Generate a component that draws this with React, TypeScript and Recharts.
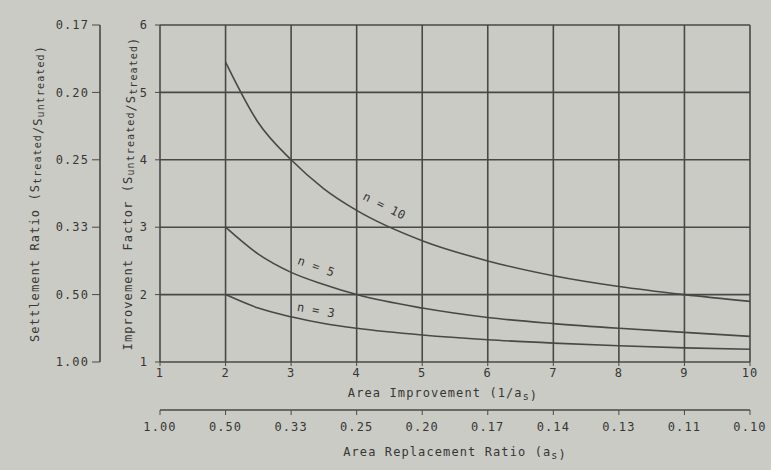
import { LineChart, Line, XAxis, YAxis, CartesianGrid, ReferenceDot } from 'recharts';

// area improvement 1/as
const AREA_IMPROVEMENT = [2, 2.5, 3, 3.5, 4, 5, 6, 7, 8, 9, 10];
const N10 = [5.45, 4.55, 4.0, 3.57, 3.25, 2.8, 2.5, 2.28, 2.12, 2.0, 1.9];
const N5 = [3.0, 2.6, 2.33, 2.15, 2.0, 1.8, 1.66, 1.57, 1.5, 1.44, 1.38];
const N3 = [2.0, 1.8, 1.67, 1.57, 1.5, 1.4, 1.33, 1.28, 1.24, 1.21, 1.19];

const X_TICKS = [1, 2, 3, 4, 5, 6, 7, 8, 9, 10];
const AS_LABELS = ['1.00', '0.50', '0.33', '0.25', '0.20', '0.17', '0.14', '0.13', '0.11', '0.10'];
const IF_TICKS = [1, 2, 3, 4, 5, 6];
const SR_LABELS = ['1.00', '0.50', '0.33', '0.25', '0.20', '0.17'];

const CURVE_LABELS = [
  { text: 'n = 10', x: 4.42, y: 3.31, angle: 27 },
  { text: 'n = 5', x: 3.38, y: 2.41, angle: 20 },
  { text: 'n = 3', x: 3.38, y: 1.76, angle: 10 },
];

const data = AREA_IMPROVEMENT.map((x, i) => ({ x, n10: N10[i], n5: N5[i], n3: N3[i] }));

const INK = '#363634';
const LINE = '#484846';
const FONT = '"DejaVu Sans Mono", monospace';
const tickStyle = { fill: INK, fontSize: 12, fontFamily: FONT, letterSpacing: 1.1 };

const Sub = ({ children }: { children: string }) => (
  <>
    <tspan dy={3} fontSize={10}>{children}</tspan>
    <tspan dy={-3}></tspan>
  </>
);

export default function App() {
  return (
    <div style={{ position: 'absolute', left: 0, top: 0, width: 771, height: 470, background: '#cbcbc6' }}>
      <LineChart width={771} height={470} data={data} margin={{ top: 25, right: 21, bottom: 0, left: 0 }}>
        <CartesianGrid xAxisId="x1" yAxisId="y1" stroke={LINE} strokeWidth={1.6} />
        <XAxis
          xAxisId="x1"
          dataKey="x"
          type="number"
          domain={[1, 10]}
          allowDataOverflow
          ticks={X_TICKS}
          height={48}
          axisLine={false}
          tickSize={4}
          tickLine={{ stroke: LINE }}
          tick={tickStyle}
          label={({ viewBox }: any) => (
            <text x={viewBox.x + viewBox.width / 2 - 12} y={viewBox.y + 35} textAnchor="middle" fill={INK} fontSize={12} fontFamily={FONT} letterSpacing={1.1}>
              Area Improvement (1/a<Sub>s</Sub>)
            </text>
          )}
        />
        <XAxis
          xAxisId="x2"
          dataKey="x"
          type="number"
          domain={[1, 10]}
          allowDataOverflow
          ticks={X_TICKS}
          height={60}
          tickFormatter={(v: number) => AS_LABELS[v - 1]}
          stroke={LINE}
          axisLine={{ stroke: LINE, strokeWidth: 1.6 }}
          tickSize={5}
          tickMargin={7}
          tick={tickStyle}
          label={({ viewBox }: any) => (
            <text x={viewBox.x + viewBox.width / 2} y={viewBox.y + 46} textAnchor="middle" fill={INK} fontSize={12} fontFamily={FONT} letterSpacing={1.1}>
              Area Replacement Ratio (a<Sub>s</Sub>)
            </text>
          )}
        />
        <YAxis
          yAxisId="y1"
          type="number"
          domain={[1, 6]}
          allowDataOverflow
          ticks={IF_TICKS}
          width={60}
          axisLine={false}
          tickSize={5}
          tickMargin={7}
          tickLine={{ stroke: LINE }}
          tick={tickStyle}
          label={({ viewBox }: any) => {
            const cx = viewBox.x + 28;
            const cy = viewBox.y + viewBox.height / 2;
            return (
              <text x={cx} y={cy} transform={`rotate(-90 ${cx} ${cy})`} textAnchor="middle" dominantBaseline="middle" fill={INK} fontSize={12} fontFamily={FONT} letterSpacing={1.1}>
                Improvement Factor (S<Sub>untreated</Sub>/S<Sub>treated</Sub>)
              </text>
            );
          }}
        />
        <YAxis
          yAxisId="y2"
          type="number"
          dataKey="n10"
          domain={[1, 6]}
          allowDataOverflow
          ticks={IF_TICKS}
          width={100}
          tickFormatter={(v: number) => SR_LABELS[v - 1]}
          axisLine={{ stroke: LINE, strokeWidth: 1.6 }}
          tickSize={8}
          tickMargin={3}
          tickLine={{ stroke: LINE }}
          tick={tickStyle}
          label={({ viewBox }: any) => {
            const cx = viewBox.x + 35;
            const cy = viewBox.y + viewBox.height / 2;
            return (
              <text x={cx} y={cy} transform={`rotate(-90 ${cx} ${cy})`} textAnchor="middle" dominantBaseline="middle" fill={INK} fontSize={12} fontFamily={FONT} letterSpacing={1.1}>
                Settlement Ratio (S<Sub>treated</Sub>/S<Sub>untreated</Sub>)
              </text>
            );
          }}
        />
        <Line xAxisId="x1" yAxisId="y1" type="monotone" dataKey="n10" stroke={LINE} strokeWidth={1.6} dot={false} isAnimationActive={false} />
        <Line xAxisId="x1" yAxisId="y1" type="monotone" dataKey="n5" stroke={LINE} strokeWidth={1.6} dot={false} isAnimationActive={false} />
        <Line xAxisId="x1" yAxisId="y1" type="monotone" dataKey="n3" stroke={LINE} strokeWidth={1.6} dot={false} isAnimationActive={false} />
        {CURVE_LABELS.map((c) => (
          <ReferenceDot
            key={c.text}
            xAxisId="x1"
            yAxisId="y1"
            x={c.x}
            y={c.y}
            r={0}
            shape={(p: any) => (
              <text x={p.cx} y={p.cy} transform={`rotate(${c.angle} ${p.cx} ${p.cy})`} textAnchor="middle" dominantBaseline="middle" fill={INK} fontSize={12} fontFamily={FONT} letterSpacing={0.5}>
                {c.text}
              </text>
            )}
          />
        ))}
      </LineChart>
    </div>
  );
}
